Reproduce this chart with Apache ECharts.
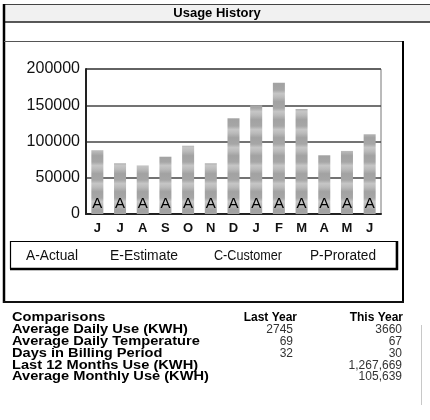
<!DOCTYPE html>
<html><head><meta charset="utf-8">
<script src="https://cdn.jsdelivr.net/npm/echarts@6/dist/echarts.min.js"></script>
<style>html,body{margin:0;padding:0;background:#fff;}#c{width:430px;height:420px;}</style>
</head><body><div id="c"></div>
<script>
// ---- data ----
const months = ['J','J','A','S','O','N','D','J','F','M','A','M','J'];
const usageKwh = [88000, 70000, 67000, 79000, 94000, 70000, 132000, 150000, 181000, 145000, 81000, 87000, 110000];
const readCodes = ['A','A','A','A','A','A','A','A','A','A','A','A','A'];
const yMin = 0, yMax = 200000, yStep = 50000;
const titleText = 'Usage History';
const legendCodes = ['A-Actual','E-Estimate','C-Customer','P-Prorated'];
const compHeader = ['Comparisons','Last Year','This Year'];
const compLabels = ['Average Daily Use (KWH)','Average Daily Temperature','Days in Billing Period','Last 12 Months Use (KWH)','Average Monthly Use (KWH)'];
const lastYear = ['2745','69','32','',''];
const thisYear = ['3660','67','30','1,267,669','105,639'];

// ---- bar stripe pattern ----
const pc = document.createElement('canvas'); pc.width = 4; pc.height = 18;
const g = pc.getContext('2d');
const grad = g.createLinearGradient(0,0,0,18);
grad.addColorStop(0,'#a6a6a6'); grad.addColorStop(0.2,'#c6c6c6'); grad.addColorStop(0.4,'#bababa');
grad.addColorStop(0.65,'#a2a2a2'); grad.addColorStop(1,'#a6a6a6');
g.fillStyle = grad; g.fillRect(0,0,4,18);

const FONT = 'Liberation Sans, Arial, sans-serif';
const mc = document.createElement('canvas').getContext('2d');
function fitScale(text, font, target){ mc.font = font; const w = mc.measureText(text).width; return w > 0 ? target / w : 1; }

const chart = echarts.init(document.getElementById('c'), null, {renderer:'canvas'});

const graphics = [];
function line(x1,y1,x2,y2,color,w){ graphics.push({type:'line',silent:true,shape:{x1,y1,x2,y2},style:{stroke:color,lineWidth:w}}); }
// header
graphics.push({type:'rect',silent:true,shape:{x:3,y:4,width:427,height:18},style:{fill:'#f1f1f1'}});
line(3,4.5,430,4.5,'#444',1);
line(3,22,430,22,'#222',1.5);
graphics.push({type:'text',silent:true,x:217,y:13.5,style:{text:titleText,font:'bold 13px '+FONT,fill:'#000',align:'center',verticalAlign:'middle'}});
// outer box
line(4,4,4,303,'#000',2.5);
line(4,41.5,403,41.5,'#555',1);
line(403,41,403,303,'#000',2);
line(3,302,404,302,'#111',2);
// legend box
graphics.push({type:'rect',silent:true,shape:{x:10.5,y:241.5,width:386,height:27},style:{fill:'none',stroke:'#000',lineWidth:1.2}});
line(397,241,397,270,'#000',2.5);
line(10,269,398,269,'#000',2.5);
const legX = [26,110,214,310];
const legW = [52,68,68,66];
legendCodes.forEach((t,i)=>{
  const f = '14px '+FONT;
  graphics.push({type:'text',silent:true,x:legX[i],y:256,scaleX:fitScale(t,f,legW[i]),style:{text:t,font:f,fill:'#111',verticalAlign:'middle'}});
});
// comparisons table
const rowY0 = 318, rowH = 11.8;
graphics.push({type:'text',silent:true,x:12,y:rowY0,scaleX:1.17,style:{text:compHeader[0],font:'bold 12.5px '+FONT,fill:'#000',verticalAlign:'middle'}});
graphics.push({type:'text',silent:true,x:297,y:rowY0,style:{text:compHeader[1],font:'bold 12px '+FONT,fill:'#000',align:'right',verticalAlign:'middle'}});
graphics.push({type:'text',silent:true,x:403,y:rowY0,style:{text:compHeader[2],font:'bold 12px '+FONT,fill:'#000',align:'right',verticalAlign:'middle'}});
compLabels.forEach((t,i)=>{
  const y = rowY0 + rowH*(i+1);
  graphics.push({type:'text',silent:true,x:12,y,scaleX:1.17,style:{text:t,font:'bold 12.5px '+FONT,fill:'#000',verticalAlign:'middle'}});
  graphics.push({type:'text',silent:true,x:293,y,style:{text:lastYear[i],font:'12px '+FONT,fill:'#333',align:'right',verticalAlign:'middle'}});
  graphics.push({type:'text',silent:true,x:402,y,style:{text:thisYear[i],font:'12px '+FONT,fill:'#333',align:'right',verticalAlign:'middle'}});
});
line(421.5,325,421.5,405,'#c8c8c8',1);

chart.setOption({
  animation:false,
  backgroundColor:'#fff',
  grid:{left:86,top:69,width:295,height:145,show:true,borderColor:'#777',borderWidth:1,containLabel:false},
  xAxis:{type:'category',data:months,
    axisLine:{show:true,lineStyle:{color:'#222',width:2}},axisTick:{show:false},
    axisLabel:{fontSize:13,fontWeight:'bold',color:'#111',margin:8,fontFamily:FONT}},
  yAxis:{type:'value',min:yMin,max:yMax,interval:yStep,
    axisLine:{show:true,lineStyle:{color:'#222',width:2}},axisTick:{show:false},
    splitLine:{show:true,lineStyle:{color:'#444',width:1.5}},
    axisLabel:{fontSize:16,color:'#111',margin:6,fontFamily:FONT,formatter:v=>String(v)}},
  series:[{type:'bar',data:usageKwh,barWidth:12,
    itemStyle:{color:{image:pc,repeat:'repeat'}},
    label:{show:true,position:'insideBottom',distance:3,formatter:p=>readCodes[p.dataIndex],
      fontSize:15,color:'#000',fontFamily:FONT}}],
  graphic:graphics
});
</script></body></html>
